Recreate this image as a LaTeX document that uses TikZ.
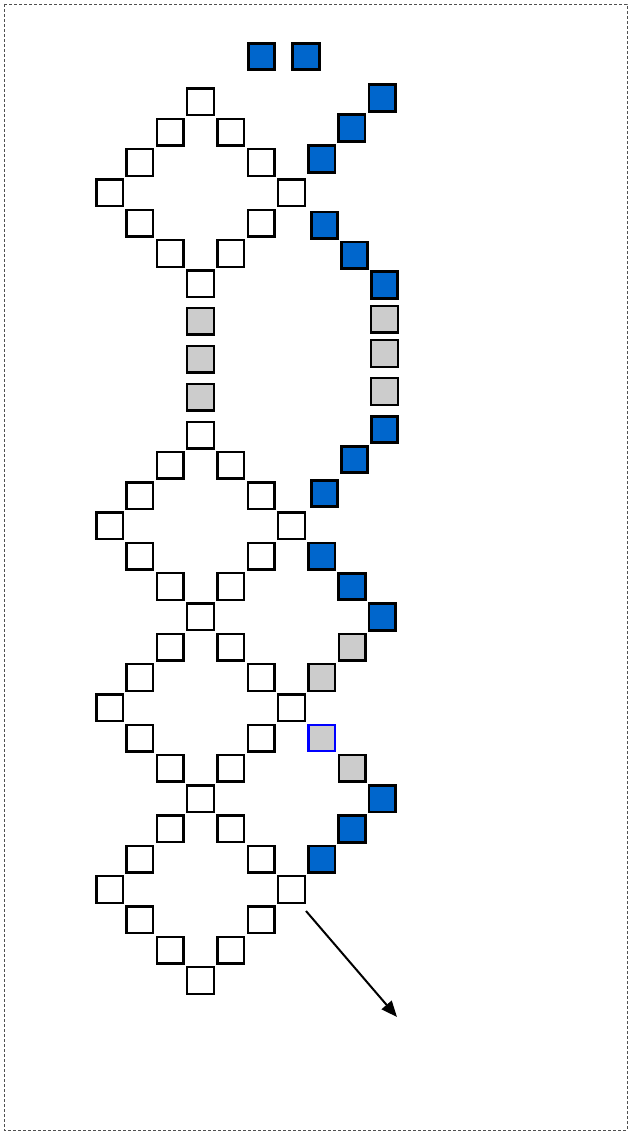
\documentclass[tikz,border=0pt]{standalone}
\usepackage{tikz}
\usetikzlibrary{arrows.meta,positioning}
\definecolor{cellblue}{RGB}{0,102,204}
\definecolor{cellgray}{RGB}{204,204,204}
\definecolor{framegray}{RGB}{80,80,80}

\begin{document}
\begin{tikzpicture}[
    x=1pt, y=-1pt,
    cell/.style={rectangle, draw, line width=2.4pt, minimum size=26.6pt, inner sep=0pt, fill=white},
    bluecell/.style={cell, fill=cellblue, line width=2.8pt},
    graycell/.style={cell, fill=cellgray},
    markcell/.style={cell, fill=cellgray, draw=blue, line width=2.2pt},
    frame/.style={draw=framegray, line width=0.7pt, dash pattern=on 3pt off 2pt}
]
    \useasboundingbox (0,0) rectangle (628,1131);
    \draw[frame] (4,4) rectangle (627,1130);

    % Diamonds
    \foreach \d/\ty in {a/102, b/435, c/616.8, d/798.6}{
        \foreach \r/\c in {1/1, 2/2, 3/3, 4/2, 5/1}{
            \node[cell] (\d-\r-l) at (200.5-\c*30.3, \ty+\r*30.3) {};
            \node[cell] (\d-\r-r) at (200.5+\c*30.3, \ty+\r*30.3) {};
        }
        \node[cell] (\d-6) at (200.5, \ty+6*30.3) {};
    }
    \node[cell] (a-0) at (200.5, 102) {};
    \node[cell] (b-0) at (200.5, 435) {};

    % Left gap
    \node[graycell] (lg1) at (200.5, 321.3) {};
    \node[graycell] (lg2) at (200.5, 359) {};
    \node[graycell] (lg3) at (200.5, 397) {};

    % Top pair
    \node[bluecell] (t1) at (261.5, 56.5) {};
    \node[bluecell] (t2) at (306, 56.5) {};

    % Upper chain
    \node[bluecell] (u1) at (382.3, 98) {};
    \node[bluecell] (u2) at (351.7, 128) {};
    \node[bluecell] (u3) at (321.7, 159) {};
    \node[bluecell] (u4) at (324.5, 225.3) {};
    \node[bluecell] (u5) at (354.5, 255.3) {};
    \node[bluecell] (u6) at (384.5, 285) {};
    \node[graycell] (rg1) at (384.5, 319.3) {};
    \node[graycell] (rg2) at (384.5, 353.5) {};
    \node[graycell] (rg3) at (384.5, 391.5) {};
    \node[bluecell] (u7) at (384.5, 429.5) {};
    \node[bluecell] (u8) at (354.5, 459.5) {};
    \node[bluecell] (u9) at (324.5, 493.5) {};

    % Lower chain
    \node[bluecell] (w1) at (321.7, 556.2) {};
    \node[bluecell] (w2) at (352, 586.5) {};
    \node[bluecell] (w3) at (382.3, 616.8) {};
    \node[graycell] (w4) at (352, 647.1) {};
    \node[graycell] (w5) at (321.7, 677.4) {};
    \node[markcell] (w6) at (321.7, 738) {};
    \node[graycell] (w7) at (352, 768.3) {};
    \node[bluecell] (w8) at (382.3, 798.6) {};
    \node[bluecell] (w9) at (352, 828.9) {};
    \node[bluecell] (w10) at (321.7, 859.2) {};

    % Arrow
    \coordinate (tail) at (306, 911);
    \coordinate (head) at (397, 1017);
    \draw[-{Triangle[length=16pt, width=13pt]}, line width=2pt] (tail) -- (head);
\end{tikzpicture}
\end{document}
